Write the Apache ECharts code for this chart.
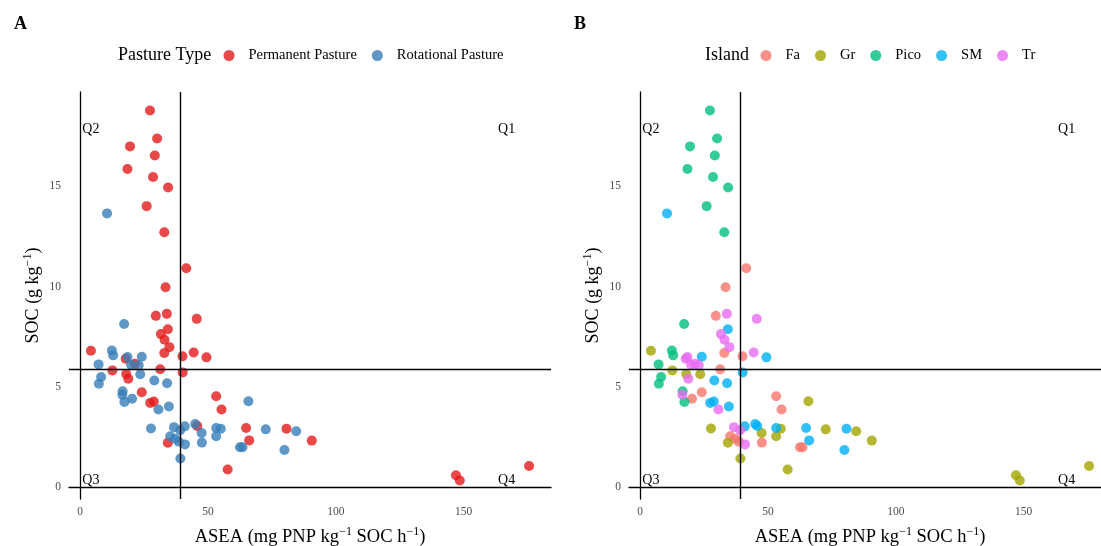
<!DOCTYPE html>
<html>
<head>
<meta charset="utf-8">
<script src="https://cdn.jsdelivr.net/npm/echarts@6/dist/echarts.min.js"></script>
<style>
  html, body { margin: 0; padding: 0; background: #fff; }
  #chart { width: 1101px; height: 546px; }
</style>
</head>
<body>
<div id="chart"></div>
<script>
// Soil enzyme activity (ASEA) against soil organic carbon, one row per sample.
const asea = [
  27.3, 30.1, 19.5, 29.2, 18.5, 28.5, 34.4, 10.5, 26.0, 32.9, 41.5, 33.4,
  29.6, 33.9, 45.6, 17.2, 34.3, 31.6, 33.0, 34.9, 4.2, 12.4, 12.9, 32.9, 44.4, 40.0, 49.4, 24.1, 18.5, 17.8,
  7.2, 21.4, 19.9, 22.9, 12.6, 31.3, 40.1, 8.2, 7.3, 23.5, 18.0, 18.8, 29.0, 34.0, 16.6, 16.5, 17.3, 20.3, 24.1, 27.4,
  28.8, 30.6, 34.7, 65.8, 53.2, 55.3, 27.7, 36.7, 40.9, 39.1, 45.0, 45.8, 47.5, 53.2, 55.0, 53.2, 64.9, 72.6, 80.7, 84.5,
  66.1, 90.6, 35.2, 37.1, 38.6, 34.3, 41.0, 47.6, 62.5, 63.5, 79.9, 39.2, 57.7, 147.0, 148.5, 175.6
];
const soc = [
  18.78, 17.38, 16.99, 16.54, 15.86, 15.46, 14.94, 13.65, 14.01, 12.71, 10.91, 9.97,
  8.54, 8.64, 8.39, 8.13, 7.87, 7.63, 7.35, 6.98, 6.80, 6.81, 6.57, 6.69, 6.71, 6.52, 6.47, 6.50, 6.49, 6.40,
  6.12, 6.15, 6.10, 6.08, 5.82, 5.88, 5.72, 5.49, 5.15, 5.63, 5.64, 5.40, 5.32, 5.18, 4.78, 4.61, 4.25, 4.41, 4.73, 4.20,
  4.27, 3.87, 4.02, 4.28, 4.53, 3.87, 2.92, 2.99, 3.03, 2.84, 3.15, 3.05, 2.70, 2.95, 2.91, 2.54, 2.95, 2.88, 2.91, 2.79,
  2.33, 2.32, 2.54, 2.41, 2.27, 2.21, 2.13, 2.22, 1.99, 1.99, 1.85, 1.43, 0.88, 0.59, 0.33, 1.05
];
// P = Permanent Pasture, R = Rotational Pasture
const pastureCode = [
  'P','P','P','P','P','P','P','R','P','P','P','P',
  'P','P','P','R','P','P','P','P','P','R','R','P','P','P','P','R','R','P',
  'R','P','R','R','P','P','P','R','R','R','P','P','R','R','R','R','R','R','P','P',
  'P','R','R','R','P','P','R','R','R','R','R','P','R','R','R','R','P','R','P','R',
  'P','P','R','R','R','P','R','R','R','R','R','R','P','P','P','P'
];
const island = [
  'Pico','Pico','Pico','Pico','Pico','Pico','Pico','SM','Pico','Pico','Fa','Fa',
  'Fa','Tr','Tr','Pico','SM','Tr','Tr','Tr','Gr','Pico','Pico','Fa','Tr','Fa','SM','SM','Tr','Tr',
  'Pico','Tr','Tr','Tr','Gr','Fa','SM','Pico','Pico','Gr','Gr','Tr','SM','SM','Pico','Tr','Pico','Fa','Fa','SM',
  'SM','Tr','SM','Gr','Fa','Fa','Gr','Tr','SM','Tr','SM','SM','Gr','SM','Gr','Gr','SM','Gr','SM','Gr',
  'SM','Gr','Fa','Fa','Fa','Gr','Tr','Fa','Fa','Fa','SM','Gr','Gr','Gr','Gr','Gr'
];

const pastureTypes = ['Permanent Pasture', 'Rotational Pasture'];
const pastureKeys = ['P', 'R'];
const islands = ['Fa', 'Gr', 'Pico', 'SM', 'Tr'];
const xTicks = [0, 50, 100, 150];
const yTicks = [0, 5, 10, 15];
const quadrantNames = ['Q1', 'Q2', 'Q3', 'Q4'];
// quadrant split lines
const aseaCut = 39.1;
const socCut = 5.86;

const pastureColors = { 'Permanent Pasture': '#E41A1C', 'Rotational Pasture': '#377EB8' };
const islandColors = { Fa: '#F8766D', Gr: '#A3A500', Pico: '#00BF7D', SM: '#00B0F6', Tr: '#E76BF3' };

const FONT = "'Liberation Serif', 'Times New Roman', 'DejaVu Serif', serif";

function expand(values) {
  const lo = Math.min(...values), hi = Math.max(...values);
  const pad = (hi - lo) * 0.05;
  return [lo - pad, hi + pad];
}
const xExt = expand(asea);
const yExt = expand(soc);
const xMinD = Math.min(...asea), xMaxD = Math.max(...asea);
const yMinD = Math.min(...soc), yMaxD = Math.max(...soc);
// quadrant tags sit near the corners of the data range
const quadrantPos = {
  Q1: [0.95 * xMaxD, 0.95 * yMaxD],
  Q2: [xMinD, 0.95 * yMaxD],
  Q3: [xMinD, yMinD],
  Q4: [0.95 * xMaxD, yMinD]
};

const supRich = {
  sup: { fontSize: 12, verticalAlign: 'top', fontFamily: FONT, color: '#000' }
};

function makeAxes(gi) {
  const x = {
    type: 'value', gridIndex: gi, min: xExt[0], max: xExt[1],
    name: 'ASEA (mg PNP kg{sup|\u22121} SOC h{sup|\u22121})',
    nameLocation: 'middle', nameGap: 27,
    nameTextStyle: { fontFamily: FONT, fontSize: 18.5, color: '#000', lineHeight: 22, rich: supRich },
    axisLine: { show: true, lineStyle: { color: '#000', width: 1.3 } },
    axisTick: { show: false },
    splitLine: { show: false },
    axisLabel: { customValues: xTicks, color: '#4D4D4D', fontFamily: FONT, fontSize: 11.5, margin: 7 }
  };
  const y = {
    type: 'value', gridIndex: gi, min: yExt[0], max: yExt[1],
    name: 'SOC (g kg{sup|\u22121})',
    nameLocation: 'middle', nameGap: 25,
    nameTextStyle: { fontFamily: FONT, fontSize: 18, color: '#000', lineHeight: 22, rich: supRich },
    axisLine: { show: true, lineStyle: { color: '#000', width: 1.3 } },
    axisTick: { show: false },
    splitLine: { show: false },
    axisLabel: { customValues: yTicks, color: '#4D4D4D', fontFamily: FONT, fontSize: 11.5, margin: 8 }
  };
  return [x, y];
}

const axesA = makeAxes(0);
const axesB = makeAxes(1);

function points(filterFn) {
  const out = [];
  for (let i = 0; i < asea.length; i++) if (filterFn(i)) out.push([asea[i], soc[i]]);
  return out;
}

const series = [];
pastureTypes.forEach((t, k) => {
  series.push({
    type: 'scatter', name: t, xAxisIndex: 0, yAxisIndex: 0,
    symbol: 'circle', symbolSize: 10,
    itemStyle: { color: pastureColors[t], opacity: 0.8 },
    data: points(i => pastureCode[i] === pastureKeys[k])
  });
});
islands.forEach(s => {
  series.push({
    type: 'scatter', name: s, xAxisIndex: 1, yAxisIndex: 1,
    symbol: 'circle', symbolSize: 10,
    itemStyle: { color: islandColors[s], opacity: 0.8 },
    data: points(i => island[i] === s)
  });
});

// quadrant tags and the split lines for each panel
[0, 1].forEach(gi => {
  series.push({
    type: 'scatter', name: 'quadrants-' + gi, xAxisIndex: gi, yAxisIndex: gi,
    silent: true, symbol: 'circle', symbolSize: 0, z: 5,
    itemStyle: { color: '#000', opacity: 1 },
    label: {
      show: true, position: 'inside', formatter: p => p.data[2],
      fontFamily: FONT, fontSize: 14, color: '#000', opacity: 1,
      textBorderWidth: 0
    },
    data: quadrantNames.map(q => [quadrantPos[q][0], quadrantPos[q][1], q]),
    markLine: {
      silent: true, symbol: ['none', 'none'], animation: false,
      label: { show: false },
      lineStyle: { color: '#000', width: 1.4, type: 'solid' },
      emphasis: { disabled: true },
      data: [{ xAxis: aseaCut }, { yAxis: socCut }]
    }
  });
});

const gridBox = { top: 92, width: 482, height: 407 };

const option = {
  animation: false,
  backgroundColor: '#fff',
  textStyle: { fontFamily: FONT },
  title: [
    { text: 'A', left: 9, top: 10, textStyle: { fontFamily: FONT, fontSize: 18, fontWeight: 'bold', color: '#000' } },
    { text: 'B', left: 569, top: 10, textStyle: { fontFamily: FONT, fontSize: 18, fontWeight: 'bold', color: '#000' } },
    { text: 'Pasture Type', left: 113, top: 41, textStyle: { fontFamily: FONT, fontSize: 18, fontWeight: 'normal', color: '#000' } },
    { text: 'Island', left: 700, top: 41, textStyle: { fontFamily: FONT, fontSize: 18, fontWeight: 'normal', color: '#000' } }
  ],
  legend: [
    {
      data: pastureTypes, left: 223.5, top: 48, padding: 0,
      icon: 'circle', itemWidth: 11, itemHeight: 11, itemGap: 15,
      textStyle: { fontFamily: FONT, fontSize: 14.5, color: '#000', padding: [0, 0, 0, 9] },
      selectedMode: false
    },
    {
      data: islands, left: 760.5, top: 48, padding: 0,
      icon: 'circle', itemWidth: 11, itemHeight: 11, itemGap: 15,
      textStyle: { fontFamily: FONT, fontSize: 14.5, color: '#000', padding: [0, 0, 0, 9] },
      selectedMode: false
    }
  ],
  grid: [
    Object.assign({ left: 69, outerBoundsMode: 'none', containLabel: false }, gridBox),
    Object.assign({ left: 629, outerBoundsMode: 'none', containLabel: false }, gridBox)
  ],
  xAxis: [axesA[0], axesB[0]],
  yAxis: [axesA[1], axesB[1]],
  series: series
};

const chart = echarts.init(document.getElementById('chart'), null, { renderer: 'canvas' });
chart.setOption(option);
</script>
</body>
</html>
